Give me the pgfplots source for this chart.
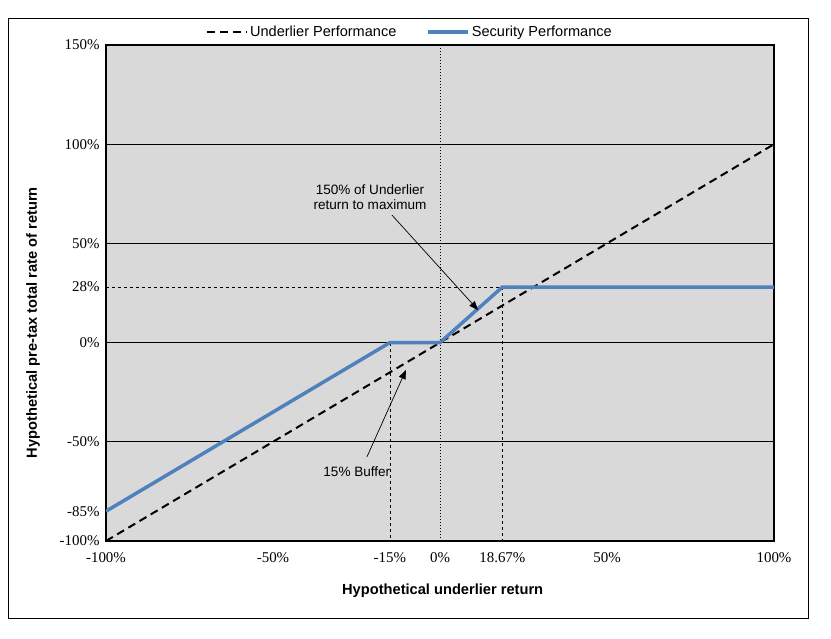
\documentclass[border=0pt]{standalone}
\usepackage{pgfplots}
\pgfplotsset{compat=1.18}
\usepackage{fontspec}
\setmainfont{Liberation Sans}
\newfontfamily\tickfont{Liberation Serif}
\usetikzlibrary{arrows.meta}
\definecolor{secblue}{RGB}{79,129,189}
\definecolor{bg}{RGB}{217,217,217}
\begin{document}
\begin{tikzpicture}[x=1bp,y=1bp]
\useasboundingbox (-106,-98) rectangle (725,541);
\draw[black,line width=0.8bp] (-98,-77) rectangle (702,523);
\begin{axis}[at={(0,0)},anchor=south west,
  scale only axis, width=668bp, height=496bp,
  xmin=-100,xmax=100,ymin=-100,ymax=150,
  axis background/.style={fill=bg},
  axis line style={line width=2bp},
  xtick={-100,-50,-15,0,18.67,50,100},
  xticklabels={-100\%,-50\%,-15\%,0\%,18.67\%,50\%,100\%},
  ytick={-100,-85,-50,0,28,50,100,150},
  yticklabels={-100\%,-85\%,-50\%,0\%,28\%,50\%,100\%,150\%},
  major tick length=0pt,
  ticklabel style={font=\tickfont\fontsize{15}{17}\selectfont},
  xticklabel shift=8bp,
  yticklabel shift=3bp,
  xlabel={Hypothetical underlier return},
  ylabel={Hypothetical pre-tax total rate of return},
  xlabel style={font=\bfseries\fontsize{14.7}{16}\selectfont, at={(axis description cs:0.504,-0.101)}, anchor=center},
  ylabel style={font=\bfseries\fontsize{14.7}{16}\selectfont, at={(axis description cs:-0.109,0.44)}, anchor=center},
  legend style={at={(0.455,1.026)},anchor=center,draw=none,fill=none,
    legend columns=2,font=\fontsize{14.6}{16}\selectfont,
    /tikz/every even column/.append style={column sep=28bp}},
  legend image code/.code={\draw[#1] (0bp,0bp) -- (40bp,0bp);},
  clip mode=individual,
]
% grid lines
\addplot[forget plot, black, line width=0.8bp] coordinates {(-100,100) (100,100)};
\addplot[forget plot, black, line width=0.8bp] coordinates {(-100,50) (100,50)};
\addplot[forget plot, black, line width=0.8bp] coordinates {(-100,0) (100,0)};
\addplot[forget plot, black, line width=0.8bp] coordinates {(-100,-50) (100,-50)};
% guides
\addplot[forget plot, black, line width=0.8bp, dash pattern=on 1bp off 2bp] coordinates {(0,-100) (0,150)};
\addplot[forget plot, black, line width=0.8bp, dash pattern=on 3bp off 3bp] coordinates {(-100,28) (18.67,28)};
\addplot[forget plot, black, line width=0.8bp, dash pattern=on 3bp off 3bp] coordinates {(18.67,28) (18.67,-100)};
\addplot[forget plot, black, line width=0.8bp, dash pattern=on 3bp off 3bp] coordinates {(-15,0) (-15,-100)};
% series
\addplot[black, line width=2bp, dash pattern=on 8bp off 5bp] coordinates {(-100,-100) (100,100)};
\addlegendentry{Underlier Performance}
\addplot[secblue, line width=3.5bp] coordinates {(-100,-85) (-15,0) (0,0) (18.67,28) (100,28)};
\addlegendentry{Security Performance}
% annotations
\node[align=center, font=\fontsize{13.6}{15.5}\selectfont] at (axis cs:-20.96,73.4) {150\% of Underlier\\return to maximum};
\draw[-{Triangle[length=9bp,width=7bp]}, black, line width=0.7bp] (axis cs:-14.4,64.3) -- (axis cs:11.4,16.4);
\node[font=\fontsize{13.6}{15.5}\selectfont] at (axis cs:-24.9,-65.2) {15\% Buffer};
\draw[-{Triangle[length=9bp,width=7bp]}, black, line width=0.7bp] (axis cs:-21.9,-57.7) -- (axis cs:-10.2,-13.8);
\end{axis}
\end{tikzpicture}
\end{document}
